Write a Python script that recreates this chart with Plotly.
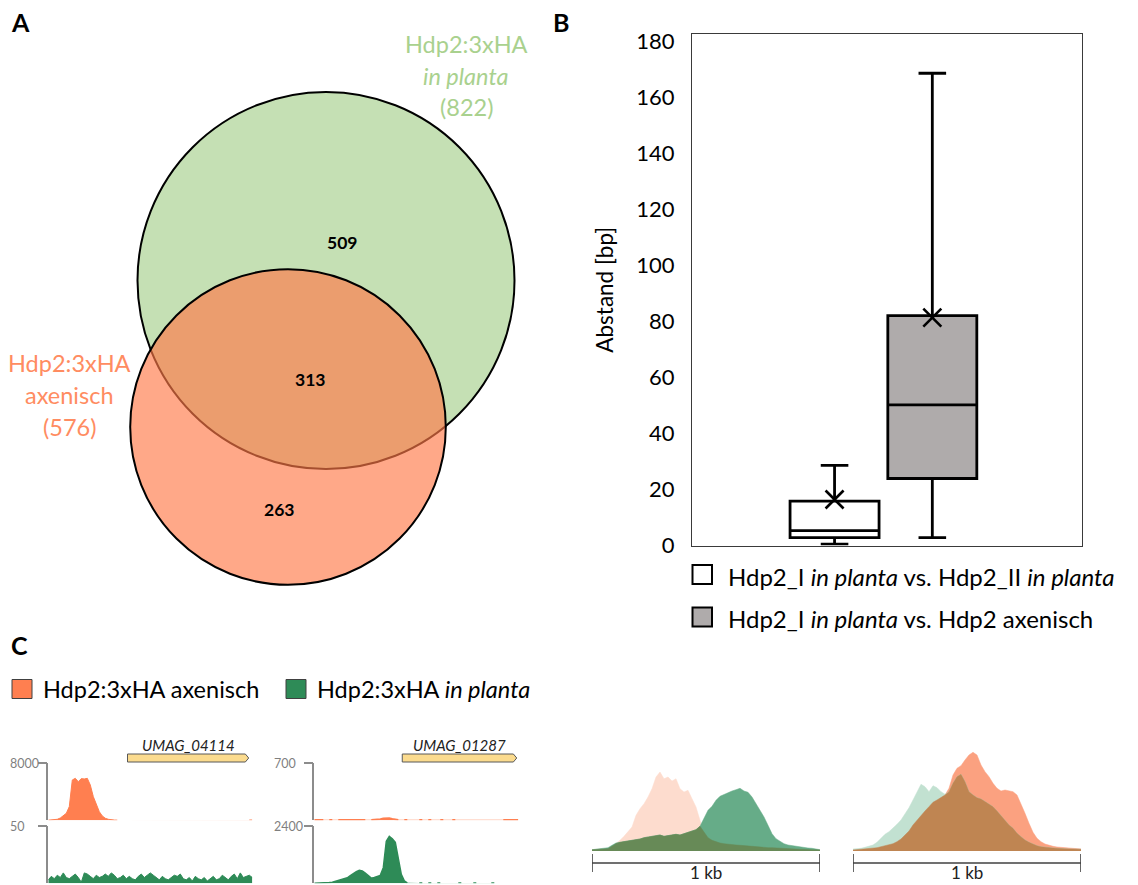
import numpy as np
import plotly.graph_objects as go

W, H = 1138, 885
FONT = "Lato, 'Open Sans', sans-serif"

# ---------------- Panel A: overlap of Hdp2 peaks ----------------
venn_planta_total = 822
venn_axenic_total = 576
venn_planta_only = 509
venn_shared = 313
venn_axenic_only = 263

# ---------------- Panel B: summit distances (bp) ----------------
box_labels = ["Hdp2_I <i>in planta</i> vs. Hdp2_II <i>in planta</i>",
              "Hdp2_I <i>in planta</i> vs. Hdp2 axenisch"]
box_low = [0.5, 2.8]
box_q1 = [2.8, 23.9]
box_median = [5.3, 50.2]
box_q3 = [15.8, 82.0]
box_high = [28.6, 168.5]
box_mean = [16.4, 81.3]
box_fill = ["#FFFFFF", "#AFABAB"]
y_ticks_b = [0, 20, 40, 60, 80, 100, 120, 140, 160, 180]

# ---------------- Panel C: browser tracks (25 bp bins) ----------------
bin_bp = 25
track1_range = [8000, 50]
track2_range = [700, 2400]
gene1 = ("UMAG_04114", 660, 1670)
gene2 = ("UMAG_01287", 733, 1687)

t1_axenic = [20, 30, 70, 140, 320, 600, 970, 1900, 5600, 5830, 5370, 5790,
             5740, 5830, 4900, 3290, 2130, 1200, 600, 280, 140, 50, 30, 20] + \
            [None] * 43 + [40, 40]
t1_planta = [3, 6, 4, 7, 5, 9, 5, 4, 6, 8, 5, 1, 9, 8, 6, 4, 7, 5, 6, 8, 6, 9, 7,
             4, 5, 7, 4, 6, 4, 3, 6, 8, 5, 7, 9, 7, 5, 3, 6, 4, 3, 5, 7, 6, 8, 4,
             3, 5, 2, 6, 4, 3, 5, 2, 4, 6, 3, 4, 7, 5, 3, 6, 8, 4, 9, 5, 6, 7, 5]

t2_axenic = [6, 6, 6, 6, None, 6, 6, None, 6, 6, 6, 6, 6, 6, 6, 8, 6, 6, None,
             6, 6, 10, 15, 22, 28, 25, 18, 10, 6, None, 6, 6, None, None, None,
             6, 6, None, 6, 6, None, None, 6, 6, None, None, 6, 6] + \
            [None] * 15 + [6] * 6
t2_planta = [0, 0, 5, 10, 20, 30, 45, 80, 110, 140, 175, 230, 320, 410, 480,
             540, 510, 420, 320, 215, 240, 290, 330, 650, 1750, 1950, 1850,
             1700, 950, 370, 100, 20,
             None, None, None, 12, 12, None, 12, 12, None, 12, 12,
             None, None, None, None, None, 12, 12, None, None, None, 12, 12,
             None, None, None, None, 12, 12] + [None] * 8

# averaged profiles around summits (arbitrary units), 1 kb windows
p3_axenic = [1.3, 1.5, 1.8, 2.2, 2.3, 4.7, 7.3, 10.7, 14.7, 19, 24, 35.7, 42.3,
             47.3, 54, 62.3, 74, 79, 72.3, 74, 70, 72.3, 62.3, 59, 60.7, 52.3,
             44, 30.7, 19, 13.3, 10.7, 9.3, 8, 7.3, 6.7, 6.3, 6, 5.7, 5.3, 5,
             4.7, 4.3, 4, 3.7, 3.3, 3.3, 3, 2.7, 2.7, 2.3, 2, 2, 1.7, 1.7, 1.3,
             1.3, 1.3, 1]
p3_planta = [1.3, 1.7, 2, 2.3, 3.3, 5.7, 8, 8.7, 9.3, 9.7, 10.7, 11.3, 12, 13.3,
             14, 15.3, 15.7, 16, 14.7, 15.3, 16, 16.7, 16, 17.3, 18, 19.3, 21.3,
             24.7, 32.3, 40.7, 44.7, 50.7, 54.7, 56.7, 58.3, 60, 61.3, 62.7, 60,
             58.7, 54, 47.3, 40.7, 34, 25.7, 17.3, 12.3, 9.7, 7.3, 6, 5.3, 5, 4,
             3.3, 3, 2.7, 2, 1.3]
p4_axenic = [1, 1.3, 1.7, 2, 2.3, 2.7, 3.3, 4.3, 5.3, 6, 7.3, 9.3, 12, 16, 20,
             26, 31, 35.3, 40, 44.3, 48.7, 51, 53.3, 56, 62.7, 76, 82.7, 85.3,
             91, 96, 98.7, 96, 86, 79.3, 74.3, 67.7, 62.7, 60, 61, 60, 59.3, 56,
             47.7, 37.7, 27.7, 18.7, 12.7, 9.3, 7, 5.7, 4.7, 4, 3.7, 3, 2.7, 2.3,
             2, 2]
p4_planta = [2, 2.3, 2.7, 3.7, 4.7, 6, 8.7, 12.7, 16.7, 19.3, 22.7, 26.7, 31,
             36.7, 43.3, 51, 59.3, 66.7, 64.3, 59.3, 65.3, 63.3, 59.3, 56.7, 59.3,
             67.7, 74.3, 76.7, 69.3, 59.3, 56, 53.3, 52, 49.3, 46.7, 44.3, 40, 35.3,
             30, 26, 22.7, 17.7, 14.3, 11, 8.7, 6.7, 5.3, 4.3, 3.7, 3.3, 3, 2.7,
             2.3, 2.3, 2, 2, 1.7, 1.7]

ORANGE = "#FF7F50"
GREEN = "#2E8B57"
GREY_AX = "#8C8C8C"


def fx(p):
    return p / W


def fy(p):
    return 1 - p / H


fig = go.Figure()

# ---- Panel B boxes ----
BOX_X = [0.366, 0.617]
BOX_W = 0.2285
for i in range(2):
    fig.add_trace(go.Box(
        x=[BOX_X[i]], q1=[box_q1[i]], median=[box_median[i]], q3=[box_q3[i]],
        lowerfence=[box_low[i]], upperfence=[box_high[i]],
        width=BOX_W, whiskerwidth=0.31, fillcolor=box_fill[i],
        line=dict(color="black", width=2.8), boxpoints=False,
        name=box_labels[i], showlegend=False, hoverinfo="skip",
        xaxis="x", yaxis="y"))
fig.add_trace(go.Scatter(
    x=BOX_X, y=box_mean, mode="markers", showlegend=False, hoverinfo="skip",
    marker=dict(symbol="x-thin", size=18, line=dict(color="black", width=2.6)),
    xaxis="x", yaxis="y"))


def add_fill(xa, ya, xs, ys, color, fillcolor=None, width=1.0):
    fig.add_trace(go.Scatter(
        x=xs, y=ys, mode="lines", fill="tozeroy",
        line=dict(color=color, width=width),
        fillcolor=fillcolor or color, connectgaps=False,
        showlegend=False, hoverinfo="skip", xaxis=xa, yaxis=ya))


# ---- Panel C browser tracks ----
x_t1 = np.arange(len(t1_axenic)) * bin_bp
x_t1g = np.arange(len(t1_planta)) * bin_bp
x_t2 = np.arange(len(t2_axenic)) * bin_bp
x_t2g = np.arange(len(t2_planta)) * bin_bp
add_fill("x2", "y2", x_t1, t1_axenic, ORANGE)
add_fill("x2", "y3", x_t1g, t1_planta, GREEN)
add_fill("x3", "y4", x_t2, t2_axenic, ORANGE, width=1.8)
add_fill("x3", "y5", x_t2g, t2_planta, GREEN, width=1.5)

# ---- Panel C summit profiles ----
for xa, ya, a_vals, p_vals, cols in [
        ("x4", "y6", p3_axenic, p3_planta, ("#FDDCCE", "#66AC88", "#678A57")),
        ("x5", "y7", p4_axenic, p4_planta, ("#FBA180", "#C2E1D1", "#BF8552"))]:
    xs = np.linspace(0, 1000, len(a_vals))
    a = np.array(a_vals)
    p = np.array(p_vals)
    add_fill(xa, ya, xs, a, cols[0], width=0.5)
    add_fill(xa, ya, xs, p, cols[1], width=0.5)
    add_fill(xa, ya, xs, np.minimum(a, p), cols[2], width=0.5)

shapes = []
ann = []


def txt(x, y, s, size=22, color="black", xanchor="center", xref="x6", yref="y8",
        bold=False, yanchor="middle"):
    if bold:
        s = "<b>" + s + "</b>"
    ann.append(dict(x=x, y=y, xref=xref, yref=yref, text=s, showarrow=False,
                    xanchor=xanchor, yanchor=yanchor,
                    font=dict(family=FONT, size=size, color=color)))


# ---- Panel A Venn diagram (areas proportional to counts) ----
K = 188.5 / np.sqrt(venn_planta_total)
r_g = K * np.sqrt(venn_planta_total)
r_o = K * np.sqrt(venn_axenic_total)
cg = (326, 280.5)
co = (288, 427)
shapes.append(dict(type="circle", xref="x6", yref="y8",
                   x0=cg[0] - r_g, x1=cg[0] + r_g, y0=cg[1] - r_g, y1=cg[1] + r_g,
                   fillcolor="#C5E0B4", line=dict(color="black", width=2)))
shapes.append(dict(type="circle", xref="x6", yref="y8",
                   x0=co[0] - r_o, x1=co[0] + r_o, y0=co[1] - r_o, y1=co[1] + r_o,
                   fillcolor="rgba(255,121,72,0.65)", line=dict(color="black", width=2)))
txt(341.5, 242, str(venn_planta_only), 17.5, bold=True)
txt(310, 379, str(venn_shared), 17.5, bold=True)
txt(279, 509, str(venn_axenic_only), 17.5, bold=True)
LG, LO = "#A9D18E", "#FF8C61"
txt(466, 44, "Hdp2:3xHA", 23.5, LG)
txt(466, 76, "<i>in planta</i>", 23.5, LG)
txt(466, 107, f"({venn_planta_total})", 23.5, LG)
txt(69, 363, "Hdp2:3xHA", 23.5, LO)
txt(69, 395, "axenisch", 23.5, LO)
txt(69, 427, f"({venn_axenic_total})", 23.5, LO)

# panel letters
txt(20, 22, "A", 25, bold=True)
txt(561, 22, "B", 25, bold=True)
txt(19, 645, "C", 25, bold=True)

# ---- Panel B legend ----
for i, yc in enumerate([574.5, 617]):
    shapes.append(dict(type="rect", xref="x6", yref="y8", x0=692.5, x1=712,
                       y0=yc - 9.5, y1=yc + 9.5, fillcolor=box_fill[i],
                       line=dict(color="black", width=2)))
    txt(726, yc + 1.5, box_labels[i], 24, xanchor="left")

# ---- Panel C legend ----
for x0, col, label in [(12, ORANGE, "Hdp2:3xHA axenisch"),
                       (286, GREEN, "Hdp2:3xHA <i>in planta</i>")]:
    shapes.append(dict(type="rect", xref="x6", yref="y8", x0=x0, x1=x0 + 20,
                       y0=679.5, y1=698.5, fillcolor=col,
                       line=dict(color="#404040", width=1)))
    txt(x0 + 29, 689, label, 23.5, xanchor="left")

# track scale labels
for xl, (top, bottom) in [(8, track1_range), (272, track2_range)]:
    txt(xl, 763, str(top), 12.5, "#7F7F7F", xanchor="left")
    txt(xl, 826, str(bottom), 12.5, "#7F7F7F", xanchor="left")

# gene models
for xa, (gname, g0, g1) in [("x2", gene1), ("x3", gene2)]:
    tip = 28
    shapes.append(dict(type="path", xref=xa, yref="y8",
                       path=f"M {g0},754 L {g1 - tip},754 L {g1},758 L {g1 - tip},762 L {g0},762 Z",
                       fillcolor="#FBDB8E", line=dict(color="#595959", width=1)))
    txt((g0 + g1) / 2, 745, f"<i>{gname}</i>", 15, "#222222", xref=xa)

# 1 kb scale bars
for xa in ["x4", "x5"]:
    shapes.append(dict(type="line", xref=xa, yref="y8", x0=0, x1=1000, y0=863, y1=863,
                       line=dict(color="#404040", width=1.6)))
    for xe in (0, 1000):
        shapes.append(dict(type="line", xref=xa, yref="y8", x0=xe, x1=xe, y0=854, y1=872,
                           line=dict(color="#404040", width=1.6)))
    txt(500, 884.5, "1 kb", 17, "#222222", xref=xa, yanchor="bottom")

hidden = dict(visible=False, showgrid=False, zeroline=False, fixedrange=True,
              automargin=False)


def track_y(dom, rng, anchor):
    return dict(domain=[fy(dom[0]), fy(dom[1])], range=[0, rng], anchor=anchor,
                showline=True, linecolor=GREY_AX, linewidth=1.5, ticks="outside",
                tickvals=[rng], ticklen=9, tickwidth=1.5, tickcolor=GREY_AX,
                showticklabels=False, showgrid=False, zeroline=False, fixedrange=True,
                automargin=False)


fig.update_layout(
    width=W, height=H,
    margin=dict(l=0, r=0, t=0, b=0, pad=0, autoexpand=False),
    paper_bgcolor="white", plot_bgcolor="rgba(0,0,0,0)",
    font=dict(family=FONT, color="black"),
    showlegend=False,
    xaxis=dict(domain=[fx(692), fx(1081.5)], range=[0, 1], anchor="y",
               showline=True, mirror=True, linecolor="#3A3A3A", linewidth=1.2,
               showticklabels=False, ticks="", showgrid=False, zeroline=False,
               fixedrange=True, automargin=False),
    yaxis=dict(domain=[fy(545.5), fy(34)], range=[0, 182.5], anchor="x",
               showline=True, mirror=True, linecolor="#3A3A3A", linewidth=1.2,
               tickvals=y_ticks_b, ticks="", ticklabelstandoff=12,
               tickfont=dict(size=22, family=FONT, color="black"),
               title=dict(text="Abstand [bp]", standoff=16,
                          font=dict(size=22.5, family=FONT, color="black")),
               showgrid=False, zeroline=False, fixedrange=True, automargin=False),
    xaxis2=dict(domain=[fx(48.3), fx(252.3)], range=[0, 1700], anchor="y2", **hidden),
    yaxis2=track_y((820.3, 762.7), track1_range[0], "x2"),
    yaxis3=track_y((883.3, 825.5), track1_range[1], "x2"),
    xaxis3=dict(domain=[fx(314.3), fx(518.3)], range=[0, 1700], anchor="y4", **hidden),
    yaxis4=track_y((820.3, 762.7), track2_range[0], "x3"),
    yaxis5=track_y((883.3, 825.5), track2_range[1], "x3"),
    xaxis4=dict(domain=[fx(592), fx(820)], range=[0, 1000], anchor="y6", **hidden),
    yaxis6=dict(domain=[fy(851), fy(745)], range=[0, 106], anchor="x4", **hidden),
    xaxis5=dict(domain=[fx(853), fx(1081)], range=[0, 1000], anchor="y7", **hidden),
    yaxis7=dict(domain=[fy(851), fy(745)], range=[0, 106], anchor="x5", **hidden),
    xaxis6=dict(domain=[0, 1], range=[0, W], anchor="y8", **hidden),
    yaxis8=dict(domain=[0, 1], range=[H, 0], anchor="x6", **hidden),
    shapes=shapes,
    annotations=ann,
)

fig.write_html("out.html")
